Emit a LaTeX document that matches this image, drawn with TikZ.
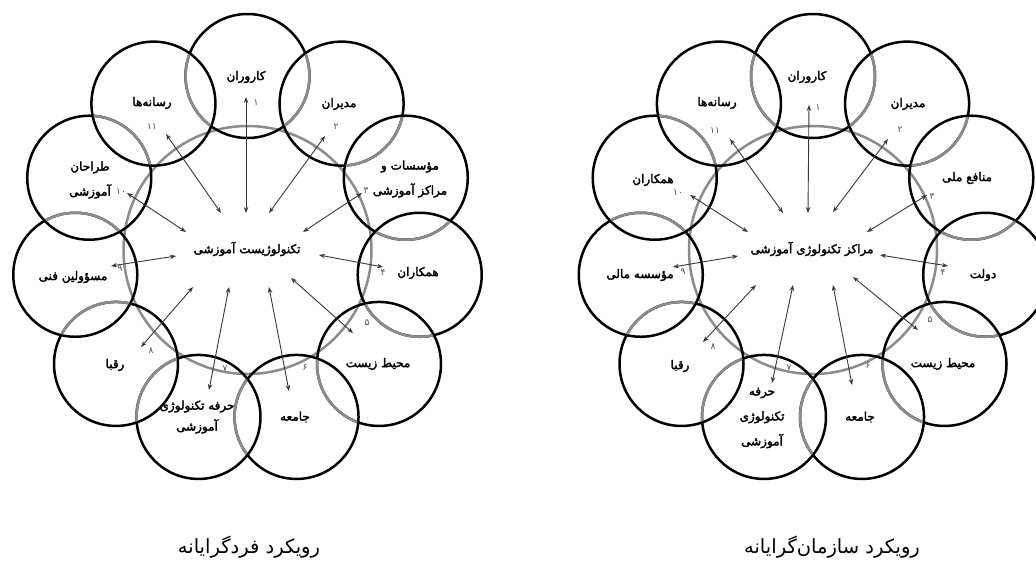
\documentclass[tikz,border=0pt]{standalone}
\usepackage{fontspec}
\usetikzlibrary{arrows.meta}
\newfontfamily\arabicfont[Script=Arabic]{DejaVu Sans}
\newfontfamily\arabicbold[Script=Arabic,FakeBold=2.5]{DejaVu Sans}
\TeXXeTstate=1
\newcommand\fatext[1]{\beginR #1\endR}
\definecolor{cgray}{gray}{0.55}
\definecolor{carrow}{gray}{0.22}
\tikzset{
  ringblack/.style={draw=black, line width=2.5pt},
  ringgray/.style={draw=cgray, line width=2.5pt},
  conn/.style={<->, >={Stealth[length=6pt,width=4.5pt]}, line width=0.9pt, draw=carrow},
  lbl/.style={inner sep=0pt, align=center, font=\arabicbold\fontsize{12}{25}\selectfont},
  num/.style={inner sep=0pt, text=black!70, font=\arabicfont\fontsize{9}{10}\selectfont},
  captext/.style={inner sep=0pt, font=\arabicfont\fontsize{19.5}{22}\selectfont},
}
\begin{document}
\begin{tikzpicture}[x=1pt,y=-1pt]
\useasboundingbox (0,0) rectangle (1036,560);
\fill[white] (0,0) rectangle (1036,560);

\foreach \cx/\tg in {247.5/L,813/R}{
  \foreach \k in {1,...,11}{
    \pgfmathsetmacro\ang{90-(\k-1)*360/11}
    \coordinate (\tg\k) at ({\cx+174*cos(\ang)},{250-174*sin(\ang)});
  }
  \coordinate (\tg0) at (\cx,250);
  \draw[ringgray] (\tg0) circle[radius=124pt];
  \foreach \k in {1,...,11}{\draw[ringblack] (\tg\k) circle[radius=62pt];}
  \foreach \a/\b in {1/2,2/3,3/4,4/5,5/6,6/7,7/8,8/9,9/10,10/11,1/11}{
    \begin{scope}
      \clip (\tg\b) circle[radius=61pt];
      \draw[ringgray] (\tg\a) circle[radius=62pt];
    \end{scope}
  }
}

% ---------- left arrows ----------
\coordinate (Lo1) at (246,97);   \coordinate (Li1) at (246,213);
\coordinate (Lo2) at (325,136);  \coordinate (Li2) at (269,213);
\coordinate (Lo3) at (362,193);  \coordinate (Li3) at (303,232);
\coordinate (Lo4) at (383,267);  \coordinate (Li4) at (319,255);
\coordinate (Lo5) at (353,333);  \coordinate (Li5) at (291,278);
\coordinate (Lo6) at (289,391);  \coordinate (Li6) at (269,287);
\coordinate (Lo7) at (209,390);  \coordinate (Li7) at (229,287);
\coordinate (Lo8) at (141,347);  \coordinate (Li8) at (193,287);
\coordinate (Lo9) at (111,266);  \coordinate (Li9) at (176,256);
\coordinate (Lo10) at (127,193); \coordinate (Li10) at (186,232);
\coordinate (Lo11) at (166,134); \coordinate (Li11) at (221,213);
% ---------- right arrows ----------
\coordinate (Ro1) at (809,105);  \coordinate (Ri1) at (808,213);
\coordinate (Ro2) at (888,139);  \coordinate (Ri2) at (833,212);
\coordinate (Ro3) at (927,195);  \coordinate (Ri3) at (867,232);
\coordinate (Ro4) at (948,266);  \coordinate (Ri4) at (880,255);
\coordinate (Ro5) at (918,330);  \coordinate (Ri5) at (853,277);
\coordinate (Ro6) at (852,385);  \coordinate (Ri6) at (833,285);
\coordinate (Ro7) at (772,383);  \coordinate (Ri7) at (793,285);
\coordinate (Ro8) at (703,342);  \coordinate (Ri8) at (756,285);
\coordinate (Ro9) at (673,267);  \coordinate (Ri9) at (738,256);
\coordinate (Ro10) at (690,195); \coordinate (Ri10) at (748,232);
\coordinate (Ro11) at (730,139); \coordinate (Ri11) at (783,213);

\foreach \k in {1,...,11}{
  \draw[conn] (Li\k) -- (Lo\k);
  \draw[conn] (Ri\k) -- (Ro\k);
}

% ---------- left labels ----------
\node[lbl] (Lc)  at (247,249) {\fatext{تکنولوژیست آموزشی}};
\node[lbl] (Lt1) at (246,77)  {\fatext{کاروران}};
\node[lbl] (Lt2) at (339,104) {\fatext{مدیران}};
\node[lbl] (Lt3) at (410,179) {\fatext{مؤسسات و}\\\fatext{مراکز آموزشی}};
\node[lbl] (Lt4) at (418,273) {\fatext{همکاران}};
\node[lbl] (Lt5) at (378,364) {\fatext{محیط زیست}};
\node[lbl] (Lt6) at (295,417) {\fatext{جامعه}};
\node[lbl] (Lt7) at (197,417) {\fatext{حرفه تکنولوژی}\\[-4pt]\fatext{آموزشی}};
\node[lbl] (Lt8) at (115,365) {\fatext{رقبا}};
\node[lbl] (Lt9) at (73,277)  {\fatext{مسؤولین فنی}};
\node[lbl] (Lt10) at (90,180) {\fatext{طراحان}\\\fatext{آموزشی}};
\node[lbl] (Lt11) at (152,103) {\fatext{رسانه‌ها}};

\node[num] (Ln1) at (256,103) {۱};
\node[num] (Ln2) at (336,127) {۲};
\node[num] (Ln3) at (366,191) {۳};
\node[num] (Ln4) at (383,273) {۴};
\node[num] (Ln5) at (367,323) {۵};
\node[num] (Ln6) at (305,368) {۶};
\node[num] (Ln7) at (225,369) {۷};
\node[num] (Ln8) at (151,351) {۸};
\node[num] (Ln9) at (120,269) {۹};
\node[num] (Ln10) at (121,192) {۱۰};
\node[num] (Ln11) at (152,127) {۱۱};

% ---------- right labels ----------
\node[lbl] (Rc)  at (812,249) {\fatext{مراکز تکنولوژی آموزشی}};
\node[lbl] (Rt1) at (807,77)  {\fatext{کاروران}};
\node[lbl] (Rt2) at (908,104) {\fatext{مدیران}};
\node[lbl] (Rt3) at (967,178) {\fatext{منافع ملی}};
\node[lbl] (Rt4) at (983,275) {\fatext{دولت}};
\node[lbl] (Rt5) at (943,364) {\fatext{محیط زیست}};
\node[lbl] (Rt6) at (860,417) {\fatext{جامعه}};
\node[lbl] (Rt7) at (762,418) {\fatext{حرفه}\\\fatext{تکنولوژی}\\\fatext{آموزشی}};
\node[lbl] (Rt8) at (680,366) {\fatext{رقبا}};
\node[lbl] (Rt9) at (640,275) {\fatext{مؤسسه مالی}};
\node[lbl] (Rt10) at (653,180) {\fatext{همکاران}};
\node[lbl] (Rt11) at (717,103) {\fatext{رسانه‌ها}};

\node[num] (Rn1) at (818,108) {۱};
\node[num] (Rn2) at (900,130) {۲};
\node[num] (Rn3) at (932,197) {۳};
\node[num] (Rn4) at (943,273) {۴};
\node[num] (Rn5) at (930,320) {۵};
\node[num] (Rn6) at (868,366) {۶};
\node[num] (Rn7) at (789,368) {۷};
\node[num] (Rn8) at (713,347) {۸};
\node[num] (Rn9) at (683,272) {۹};
\node[num] (Rn10) at (678,193) {۱۰};
\node[num] (Rn11) at (715,131) {۱۱};

% ---------- captions ----------
\node[captext] (Lcap) at (249,547) {\fatext{رویکرد فردگرایانه}};
\node[captext] (Rcap) at (832,547) {\fatext{رویکرد سازمان‌گرایانه}};
\end{tikzpicture}
\end{document}
